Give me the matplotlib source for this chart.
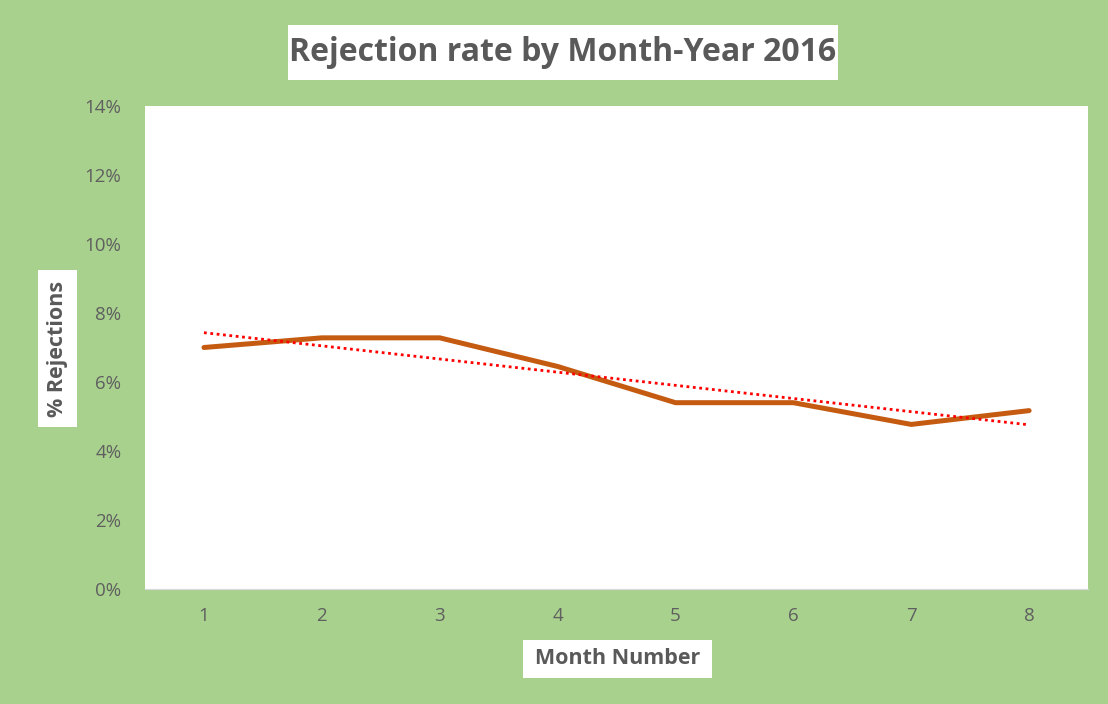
import matplotlib
matplotlib.use("Agg")
import matplotlib.pyplot as plt
import numpy as np
from matplotlib.ticker import PercentFormatter
from matplotlib.patches import Rectangle

months = [1, 2, 3, 4, 5, 6, 7, 8]
rejection_rate = [0.0700, 0.0728, 0.0728, 0.0645, 0.0540, 0.0540, 0.0477, 0.0517]
yticks = [0, 0.02, 0.04, 0.06, 0.08, 0.10, 0.12, 0.14]

title = "Rejection rate by Month-Year 2016"
xlabel = "Month Number"
ylabel = "% Rejections"

green = "#A9D18E"
gray = "#595959"

plt.rcParams['font.family'] = ['Open Sans', 'DejaVu Sans']

W, H = 1108, 704
fig = plt.figure(figsize=(W / 100, H / 100), dpi=100, facecolor=green)
ax = fig.add_axes([0.1309, 0.1634, 0.9820 - 0.1309, 0.8494 - 0.1634])
ax.set_facecolor("white")

ax.plot(months, rejection_rate, color="#C55A11", lw=3.6, solid_capstyle="round", solid_joinstyle="round", zorder=3)
coef = np.polyfit(months, rejection_rate, 1)
xs = np.array([months[0], months[-1]])
ax.plot(xs, np.polyval(coef, xs), color="#FF0000", lw=2, linestyle=(0, (1, 1.3)), zorder=4)

ax.set_xlim(0.5, 8.5)
ax.set_ylim(0, 0.14)
ax.set_yticks(yticks)
ax.set_xticks(months)
ax.yaxis.set_major_formatter(PercentFormatter(1.0, decimals=0))
for s in ["left", "right", "top"]:
    ax.spines[s].set_visible(False)
ax.spines["bottom"].set_color("#D9D9D9")
ax.tick_params(axis="both", length=0, labelsize=13.5, labelcolor="#5f5f5f")
ax.tick_params(axis="x", pad=13)
ax.tick_params(axis="y", pad=17)


def box(x0, y0, x1, y1):
    fig.patches.append(Rectangle((x0 / W, 1 - y1 / H), (x1 - x0) / W, (y1 - y0) / H,
                                 transform=fig.transFigure, fc="white", ec="none", zorder=0))


box(288, 25, 838, 80)
box(523, 640, 712, 678)
box(38, 270, 77, 427)

fig.text(563 / W, 1 - 52.5 / H, title, ha="center", va="center", fontsize=23, fontweight="bold", color=gray)
fig.text(617.5 / W, 1 - 659 / H, xlabel, ha="center", va="center", fontsize=15.5, fontweight="bold", color=gray)
fig.text(57.5 / W, 1 - 348.5 / H, ylabel, ha="center", va="center", rotation=90, fontsize=15.5,
         fontweight="bold", color=gray)

fig.savefig("out.png", dpi=100, facecolor=green)
